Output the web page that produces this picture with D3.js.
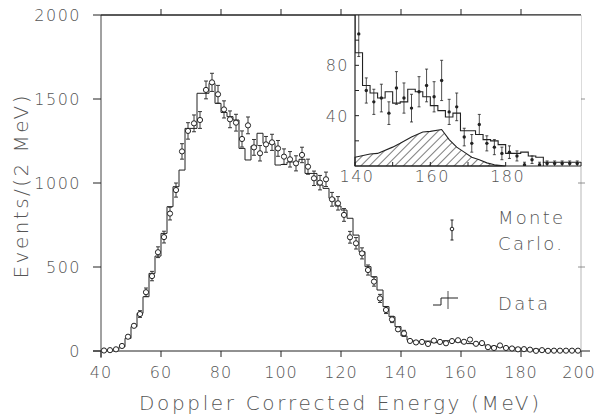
<!DOCTYPE html>
<html><head><meta charset="utf-8">
<script src="https://cdn.jsdelivr.net/npm/d3@7"></script>
<style>
body{margin:0;background:#fff;}
svg text{font-family:"DejaVu Sans","Noto Sans",sans-serif;font-weight:200;fill:#555;}
</style></head><body>
<svg id="c" width="597" height="419"></svg>
<script>
// bin centres (2 MeV bins, 40-200 MeV)
const binCenters = [41,43,45,47,49,51,53,55,57,59,61,63,65,67,69,71,73,75,77,79,
  81,83,85,87,89,91,93,95,97,99,101,103,105,107,109,111,113,115,117,119,
  121,123,125,127,129,131,133,135,137,139,141,143,145,147,149,151,153,155,157,159,
  161,163,165,167,169,171,173,175,177,179,181,183,185,187,189,191,193,195,197,199];
// Data histogram (events / 2 MeV)
const dataCounts = [3,4,8,25,75,145,224,323,462,565,700,859,978,1077,1325,1325,1534,1534,1593,1474,
  1420,1395,1375,1206,1137,1220,1296,1236,1236,1107,1110,1125,1125,1141,1057,1057,988,968,909,863,
  839,790,690,591,502,442,363,264,204,145,90,64,58,54,59,50,51,61,59,55,
  48,44,39,42,28,28,25,21,20,17,10,10,11,8,7,3,3,3,3,3];
// Monte Carlo points
const mcCounts = [3,5,10,30,85,150,220,350,446,588,678,818,958,1188,1310,1355,1375,1554,1599,1528,
  1438,1379,1359,1262,1343,1212,1177,1230,1242,1206,1157,1141,1117,1167,1097,1028,1002,1022,903,879,
  810,677,641,581,482,413,313,244,188,129,105,60,51,54,42,62,54,46,59,64,
  55,68,43,47,23,18,33,18,15,10,11,8,1,5,1,2,2,2,2,2];
const mcErrors = [3,3,4,7,12,16,20,25,28,32,35,38,42,46,49,50,50,53,54,53,
  51,50,50,48,50,47,46,47,48,47,46,46,45,46,45,43,43,43,41,40,
  38,35,34,33,30,27,24,21,19,16,18,10,10,11,9,13,12,11,12,13,
  12,16,10,11,7,7,8,6,6,5,5,4,2,3,2,2,2,2,2,2];
// hatched component in the inset
const bgEnergy = [140,144,146,150,152,155,158,160,163,165,167,169,171,173,175,177,180];
const bgCounts = [7,9.5,10,15,18,23,27,27.5,29,21,15,11,7,5,2.5,1,0];

const xTicks = [40,60,80,100,120,140,160,180,200];
const yTicks = [0,500,1000,1500,2000];
const insetXTicks = [140,150,160,170,180,190,200];
const insetXLabels = [140,160,180];
const insetYTicks = [20,40,60,80,100];
const insetYLabels = [40,80];

const svg = d3.select("#c");
const x = d3.scaleLinear().domain([40,200]).range([101,581]);
const y = d3.scaleLinear().domain([0,2000]).range([351,15]);
const xi = d3.scaleLinear().domain([140,200]).range([355,581]);
const yi = d3.scaleLinear().domain([0,120]).range([166,15]);

const ink = "#222";

function hline(x1,x2,yy,w,c){svg.append("line").attr("x1",x1).attr("x2",x2).attr("y1",yy).attr("y2",yy).attr("stroke",c||ink).attr("stroke-width",w||1);}
function vline(xx,y1,y2,w,c){svg.append("line").attr("x1",xx).attr("x2",xx).attr("y1",y1).attr("y2",y2).attr("stroke",c||ink).attr("stroke-width",w||1);}

hline(93, 590, y(0), 1);
vline(x(40), y(2000), y(0)+7, 1, "#444");
hline(x(40), x(200), y(2000), 1);
vline(x(200), y(2000), y(0), 0.7, "#999");

xTicks.forEach(t=>{
  vline(x(t), y(0), y(0)+6, 1);
  if (t>40 && t<200) vline(x(t), y(2000)-6, y(2000), 1);
  svg.append("text").attr("x", t===200 ? x(t)-2 : x(t)).attr("y", 378).attr("text-anchor","middle")
    .attr("font-size",16).attr("letter-spacing",1).text(t);
});
yTicks.forEach(t=>{
  hline(x(40)-8, x(40), y(t), 1);
  if (t>0 && t<2000) hline(x(200)-3, x(200)+4, y(t), 0.8, "#777");
  svg.append("text").attr("x", 81).attr("y", y(t)+6).attr("text-anchor","end")
    .attr("font-size",16).attr("letter-spacing",1.5).text(t);
});

svg.append("text").attr("x", 339).attr("y", 410).attr("text-anchor","middle")
  .attr("font-size",20).attr("textLength",400).attr("lengthAdjust","spacing")
  .text("Doppler Corrected Energy (MeV)");
svg.append("text").attr("transform","translate(28,187) rotate(-90)").attr("text-anchor","middle")
  .attr("font-size",20).attr("textLength",183).attr("lengthAdjust","spacing")
  .text("Events/(2 MeV)");

function stepPts(cs, vs){
  const pts=[];
  cs.forEach((c,i)=>{pts.push([c-1,vs[i]]);pts.push([c+1,vs[i]]);});
  return pts;
}
const mainLine = d3.line().x(d=>x(d[0])).y(d=>y(d[1]));
svg.append("path").attr("d", mainLine(stepPts(binCenters,dataCounts)))
  .attr("fill","none").attr("stroke",ink).attr("stroke-width",1);

const mc = svg.append("g");
binCenters.forEach((c,i)=>{
  const v=mcCounts[i], e=mcErrors[i];
  const cx=x(c);
  if (y(v-e)-y(v+e) > 6) {
    mc.append("line").attr("x1",cx).attr("x2",cx).attr("y1",y(v+e)).attr("y2",y(v-e)).attr("stroke",ink).attr("stroke-width",0.9);
    [v+e,v-e].forEach(w=>mc.append("line").attr("x1",cx-2).attr("x2",cx+2).attr("y1",y(w)).attr("y2",y(w)).attr("stroke",ink).attr("stroke-width",0.9));
  }
  mc.append("circle").attr("cx",cx).attr("cy",y(v)).attr("r",2.6)
    .attr("fill","#fff").attr("stroke",ink).attr("stroke-width",1);
});

// ---------- inset ----------
const defs = svg.append("defs");
const pat = defs.append("pattern").attr("id","hatch").attr("patternUnits","userSpaceOnUse")
  .attr("width",6).attr("height",6).attr("patternTransform","rotate(45)");
pat.append("line").attr("x1",0).attr("x2",0).attr("y1",0).attr("y2",6).attr("stroke","#111").attr("stroke-width",1.1);
defs.append("clipPath").attr("id","ic").append("rect").attr("x",xi(140)).attr("y",yi(120)).attr("width",xi(200)-xi(140)).attr("height",yi(0)-yi(120));

const ins = svg.append("g");
ins.append("rect").attr("x",xi(140)).attr("y",yi(120)).attr("width",xi(200)-xi(140)).attr("height",yi(0)-yi(120)).attr("fill","#fff");

const area = d3.area().x((d,i)=>xi(bgEnergy[i])).y0(yi(0)).y1(d=>yi(d));
ins.append("path").attr("d",area(bgCounts)).attr("fill","url(#hatch)").attr("stroke",ink).attr("stroke-width",1.1);

const ig = ins.append("g").attr("clip-path","url(#ic)");
const insetIdx = binCenters.map((c,i)=>i).filter(i=>binCenters[i]>=139);
const insLine = d3.line().x(d=>xi(d[0])).y(d=>yi(d[1]));
ig.append("path").attr("d", insLine(stepPts(insetIdx.map(i=>binCenters[i]), insetIdx.map(i=>dataCounts[i]))))
  .attr("fill","none").attr("stroke",ink).attr("stroke-width",1.1);
insetIdx.forEach(i=>{
  const c=binCenters[i], v=mcCounts[i], e=mcErrors[i];
  if (c<140) return;
  const cx=xi(c);
  ig.append("line").attr("x1",cx).attr("x2",cx).attr("y1",yi(v+e)).attr("y2",yi(Math.max(0,v-e))).attr("stroke",ink).attr("stroke-width",0.8);
  [v+e,v-e].forEach(w=>{ if(w>0) ig.append("line").attr("x1",cx-1.5).attr("x2",cx+1.5).attr("y1",yi(w)).attr("y2",yi(w)).attr("stroke",ink).attr("stroke-width",0.8);});
  ig.append("circle").attr("cx",cx).attr("cy",yi(v)).attr("r",1.7).attr("fill",ink);
});

ins.append("line").attr("x1",xi(140)).attr("x2",xi(200)).attr("y1",yi(0)).attr("y2",yi(0)).attr("stroke",ink).attr("stroke-width",1.2);
ins.append("line").attr("x1",xi(140)).attr("x2",xi(140)).attr("y1",yi(0)).attr("y2",yi(120)).attr("stroke",ink).attr("stroke-width",1.2);
insetXTicks.forEach(t=>{
  ins.append("line").attr("x1",xi(t)).attr("x2",xi(t)).attr("y1",yi(0)).attr("y2",yi(0)-4).attr("stroke",ink);
});
insetXLabels.forEach(t=>{
  ins.append("text").attr("x",xi(t)+2).attr("y",182).attr("text-anchor","middle").attr("font-size",16).attr("letter-spacing",1.5).text(t);
});
insetYTicks.forEach(t=>{
  ins.append("line").attr("x1",xi(140)).attr("x2",xi(140)+4).attr("y1",yi(t)).attr("y2",yi(t)).attr("stroke",ink);
});
insetYLabels.forEach(t=>{
  ins.append("text").attr("x",349).attr("y",yi(t)+6).attr("text-anchor","end").attr("font-size",16).attr("letter-spacing",1.5).text(t);
});
hline(x(40), x(200), y(2000), 1);

// ---------- legend ----------
const lg = svg.append("g");
lg.append("line").attr("x1",452).attr("x2",452).attr("y1",220).attr("y2",240).attr("stroke",ink);
[220,240].forEach(v=>lg.append("line").attr("x1",450.5).attr("x2",453.5).attr("y1",v).attr("y2",v).attr("stroke",ink));
lg.append("circle").attr("cx",452).attr("cy",229).attr("r",1.8).attr("fill","#fff").attr("stroke",ink);
lg.append("text").attr("x",498).attr("y",224).attr("font-size",18).attr("textLength",65).attr("lengthAdjust","spacing").text("Monte");
lg.append("text").attr("x",498).attr("y",250).attr("font-size",18).attr("textLength",64).attr("lengthAdjust","spacing").text("Carlo.");
lg.append("path").attr("d","M433,305H441V298H458").attr("fill","none").attr("stroke",ink);
lg.append("line").attr("x1",448).attr("x2",448).attr("y1",291).attr("y2",309).attr("stroke",ink).attr("stroke-width",0.8);
lg.append("text").attr("x",498).attr("y",310).attr("font-size",18).attr("textLength",50).attr("lengthAdjust","spacing").text("Data");
</script>
</body></html>
